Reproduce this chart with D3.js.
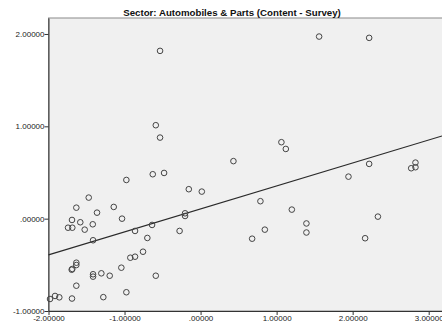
<!DOCTYPE html>
<html><head><meta charset="utf-8">
<script src="https://cdn.jsdelivr.net/npm/d3@7"></script>
<style>body{margin:0;background:#fff;} svg{display:block;font-family:"Liberation Sans",Arial,sans-serif;}</style>
</head><body>
<script>
const title = "Sector: Automobiles & Parts (Content - Survey)";
const xVals = [-1.980,-1.914,-1.858,-1.691,-1.279,-0.976,-1.634,-1.695,-1.687,-1.634,-1.634,-1.414,-1.414,-1.305,-1.195,-1.042,-0.589,-0.924,-0.862,-0.757,-0.700,-1.414,-0.862,-0.638,-0.276,-1.743,-1.687,-1.524,-1.418,-1.582,-1.691,-1.033,-1.362,-1.634,-1.142,-1.471,-0.976,-0.629,-0.480,-0.533,-0.589,-0.533,0.432,1.063,1.121,-0.155,0.016,-0.204,-0.204,0.787,1.200,1.392,1.392,0.845,0.678,1.559,2.217,2.217,1.945,2.770,2.826,2.826,2.332,2.164];
const yVals = [-0.870,-0.837,-0.852,-0.865,-0.850,-0.797,-0.726,-0.553,-0.545,-0.477,-0.502,-0.602,-0.628,-0.592,-0.618,-0.531,-0.618,-0.423,-0.412,-0.358,-0.209,-0.234,-0.133,-0.068,-0.133,-0.098,-0.098,-0.119,-0.061,-0.039,-0.014,0.000,0.065,0.119,0.127,0.228,0.419,0.481,0.495,1.817,1.012,0.878,0.623,0.828,0.755,0.319,0.293,0.058,0.029,0.189,0.098,-0.052,-0.150,-0.119,-0.217,1.972,1.958,0.593,0.455,0.546,0.607,0.557,0.022,-0.212];
const xTicks = [-2,-1,0,1,2,3];
const yTicks = [-1,0,1,2];
const fitIntercept = 0.105, fitSlope = 0.249;

function fmt(v){ if(v===0) return ".00000"; return v.toFixed(5); }

const W=442,H=328;
const m={l:48.5,r:0,t:18,b:17};
const svg=d3.select("body").append("svg").attr("width",W).attr("height",H);
const x=d3.scaleLinear().domain([-2,3.175]).range([m.l,W-m.r]);
const y=d3.scaleLinear().domain([-1,2.173]).range([H-m.b,m.t]);

svg.append("rect").attr("x",m.l).attr("y",m.t).attr("width",W-m.r-m.l+2).attr("height",H-m.b-m.t)
  .attr("fill","#f0f0f0").attr("stroke","#8a8a8a").attr("stroke-width",1);

svg.append("text").attr("x",232).attr("y",15.5).attr("text-anchor","middle")
  .attr("font-weight","bold").attr("font-size",9.7).attr("fill","#111").text(title);

const xa=svg.append("g").attr("transform",`translate(0,${H-m.b})`)
  .call(d3.axisBottom(x).tickValues(xTicks).tickFormat(fmt).tickSize(4).tickSizeOuter(0));
const ya=svg.append("g").attr("transform",`translate(${m.l},0)`)
  .call(d3.axisLeft(y).tickValues(yTicks).tickFormat(fmt).tickSize(4).tickSizeOuter(0));
[xa,ya].forEach(g=>{
  g.select(".domain").attr("stroke","#333");
  g.selectAll(".tick line").attr("stroke","#333");
  g.selectAll(".tick text").attr("font-size",8).attr("fill","#222").attr("font-family","Liberation Sans, Arial, sans-serif");
});
xa.selectAll(".tick text").attr("dy","0.9em").attr("y",2.5);
ya.selectAll(".tick text").attr("x",-4);

const xd=x.domain();
svg.append("line").attr("x1",x(xd[0])).attr("y1",y(fitIntercept+fitSlope*xd[0]))
  .attr("x2",x(xd[1])).attr("y2",y(fitIntercept+fitSlope*xd[1]))
  .attr("stroke","#2a2a2a").attr("stroke-width",1.2);

svg.append("g").selectAll("circle").data(xVals.map((v,i)=>[v,yVals[i]])).join("circle")
  .attr("cx",d=>x(d[0])).attr("cy",d=>y(d[1])).attr("r",2.8)
  .attr("fill","none").attr("stroke","#444").attr("stroke-width",1);
</script>
</body></html>
